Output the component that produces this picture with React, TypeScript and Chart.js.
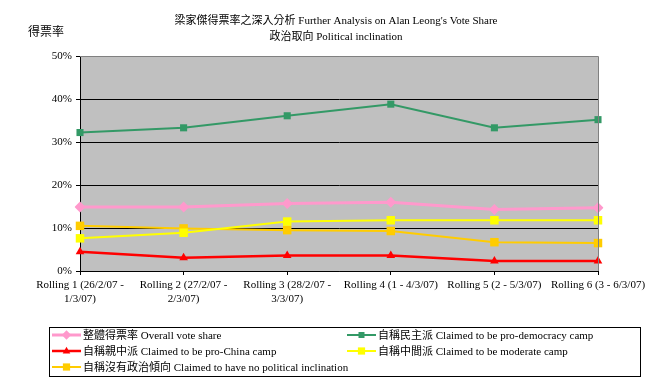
import React, { useEffect, useRef } from "react";
import { Chart, registerables } from "chart.js";

Chart.register(...registerables);

const titleLines = [
  "梁家傑得票率之深入分析 Further Analysis on Alan Leong's Vote Share",
  "政治取向 Political inclination",
];
const yAxisTitle = "得票率";

const categories = [
  ["Rolling 1 (26/2/07 -", "1/3/07)"],
  ["Rolling 2 (27/2/07 -", "2/3/07)"],
  ["Rolling 3 (28/2/07 -", "3/3/07)"],
  ["Rolling 4 (1 - 4/3/07)"],
  ["Rolling 5 (2 - 5/3/07)"],
  ["Rolling 6 (3 - 6/3/07)"],
];

const seriesNames = [
  "整體得票率 Overall vote share",
  "自稱民主派 Claimed to be pro-democracy camp",
  "自稱親中派 Claimed to be pro-China camp",
  "自稱中間派 Claimed to be moderate camp",
  "自稱沒有政治傾向 Claimed to have no political inclination",
];

const overall = [14.9, 14.9, 15.7, 16.0, 14.3, 14.7];
const proDemocracy = [32.2, 33.3, 36.1, 38.8, 33.3, 35.2];
const proChina = [4.5, 3.1, 3.6, 3.6, 2.3, 2.3];
const moderate = [7.6, 8.9, 11.5, 11.8, 11.8, 11.8];
const noInclination = [10.5, 9.9, 9.5, 9.3, 6.7, 6.5];

const yTicks = [0, 10, 20, 30, 40, 50];

const FONT = "'Liberation Serif', 'Times New Roman', 'Noto Sans CJK TC', serif";

const W = 672;
const H = 385;

const decorPlugin = {
  id: "decor",
  beforeDraw(chart: any) {
    const { ctx, chartArea } = chart;
    ctx.save();
    ctx.fillStyle = "#ffffff";
    ctx.fillRect(0, 0, chart.width, chart.height);
    ctx.fillStyle = "#C0C0C0";
    ctx.fillRect(chartArea.left, chartArea.top, chartArea.right - chartArea.left, chartArea.bottom - chartArea.top);
    ctx.restore();
  },
  afterDraw(chart: any) {
    const { ctx, chartArea } = chart;
    ctx.save();
    // gray frame top and right
    ctx.strokeStyle = "#808080";
    ctx.lineWidth = 1;
    ctx.beginPath();
    ctx.moveTo(chartArea.left, chartArea.top + 0.5);
    ctx.lineTo(Math.round(chartArea.right) + 0.5, chartArea.top + 0.5);
    ctx.lineTo(Math.round(chartArea.right) + 0.5, chartArea.bottom);
    ctx.stroke();

    // titles
    ctx.fillStyle = "#000";
    ctx.font = `11px ${FONT}`;
    ctx.textAlign = "center";
    ctx.textBaseline = "middle";
    ctx.fillText(titleLines[0], 336, 21);
    ctx.fillText(titleLines[1], 336, 37);

    ctx.font = `12px ${FONT}`;
    ctx.textAlign = "left";
    ctx.fillText(yAxisTitle, 28, 33);

    // legend
    const lx = 49, ly = 327, lw = 591, lh = 49;
    ctx.strokeStyle = "#000";
    ctx.lineWidth = 1;
    ctx.strokeRect(lx + 0.5, ly + 0.5, lw, lh);
    const colX = [52, 347];
    const rowY = [335, 351, 367];
    ctx.font = `11px ${FONT}`;
    ctx.textBaseline = "middle";
    chart.data.datasets.forEach((ds: any, i: number) => {
      const col = i % 2;
      const row = Math.floor(i / 2);
      const x0 = colX[col];
      const y = rowY[row];
      ctx.strokeStyle = ds.borderColor;
      ctx.lineWidth = ds.borderWidth;
      ctx.beginPath();
      ctx.moveTo(x0, y);
      ctx.lineTo(x0 + 29, y);
      ctx.stroke();
      const cx = x0 + 14.5;
      const r = ds.pointRadius * 0.85;
      ctx.fillStyle = ds.pointBackgroundColor;
      ctx.beginPath();
      if (ds.pointStyle === "rect") {
        const s = r * Math.SQRT1_2;
        ctx.rect(cx - s, y - s, 2 * s, 2 * s);
      } else if (ds.pointStyle === "rectRot") {
        ctx.moveTo(cx - r, y);
        ctx.lineTo(cx, y - r);
        ctx.lineTo(cx + r, y);
        ctx.lineTo(cx, y + r);
        ctx.closePath();
      } else if (ds.pointStyle === "triangle") {
        ctx.moveTo(cx, y - r);
        ctx.lineTo(cx + r * 0.9, y + r * 0.6);
        ctx.lineTo(cx - r * 0.9, y + r * 0.6);
        ctx.closePath();
      }
      ctx.fill();
      ctx.fillStyle = "#000";
      ctx.textAlign = "left";
      ctx.fillText(ds.label, x0 + 31, y + 1);
    });
    ctx.restore();
  },
};

export default function App() {
  const ref = useRef<HTMLCanvasElement | null>(null);

  useEffect(() => {
    if (!ref.current) return;
    const mk = (label: string, data: number[], color: string, style: string, radius: number, bw: number) => ({
      label,
      data,
      borderColor: color,
      backgroundColor: color,
      pointBackgroundColor: color,
      pointBorderColor: color,
      pointBorderWidth: 0,
      pointStyle: style,
      pointRadius: radius,
      borderWidth: bw,
      tension: 0,
      fill: false,
    });
    const chart = new Chart(ref.current, {
      type: "line",
      data: {
        labels: categories as any,
        datasets: [
          mk(seriesNames[0], overall, "#FF99CC", "rectRot", 5.5, 3),
          mk(seriesNames[1], proDemocracy, "#339966", "rect", 5, 2),
          mk(seriesNames[2], proChina, "#FF0000", "triangle", 5, 2.5),
          mk(seriesNames[3], moderate, "#FFFF00", "rect", 6, 2),
          mk(seriesNames[4], noInclination, "#FFCC00", "rect", 6, 2),
        ] as any,
      },
      options: {
        responsive: false,
        animation: false,
        devicePixelRatio: 1,
        layout: { padding: { left: 0, top: 56, right: 74, bottom: 64 } },
        plugins: {
          legend: { display: false },
          title: { display: false },
          tooltip: { enabled: false },
        },
        scales: {
          x: {
            offset: false,
            grid: {
              display: true,
              drawOnChartArea: false,
              drawTicks: true,
              tickLength: 4,
              tickColor: "#000",
              color: "#000",
            },
            border: { display: true, color: "#000", width: 1 },
            ticks: {
              autoSkip: false,
              maxRotation: 0,
              minRotation: 0,
              padding: 3,
              color: "#000",
              font: { family: FONT, size: 11, lineHeight: 1.3 },
            },
            afterFit(scale: any) {
              scale.height = 50;
            },
          },
          y: {
            min: 0,
            max: 50,
            afterBuildTicks(scale: any) {
              scale.ticks = yTicks.map((v) => ({ value: v }));
            },
            grid: {
              color: (c: any) => (c.tick && c.tick.value === 50 ? "#808080" : "#000"),
              tickColor: "#000",
              tickLength: 4,
              lineWidth: 1,
            },
            border: { display: true, color: "#000", width: 1 },
            ticks: {
              padding: 4,
              color: "#000",
              font: { family: FONT, size: 11 },
              callback: (v: any) => `${v}%`,
            },
            afterFit(scale: any) {
              scale.width = 80;
            },
          },
        },
      },
      plugins: [decorPlugin],
    });
    return () => chart.destroy();
  }, []);

  return (
    <div style={{ position: "fixed", left: 0, top: 0, width: W, height: H, background: "#fff" }}>
      <canvas ref={ref} width={W} height={H} style={{ width: W, height: H, display: "block" }} />
    </div>
  );
}
